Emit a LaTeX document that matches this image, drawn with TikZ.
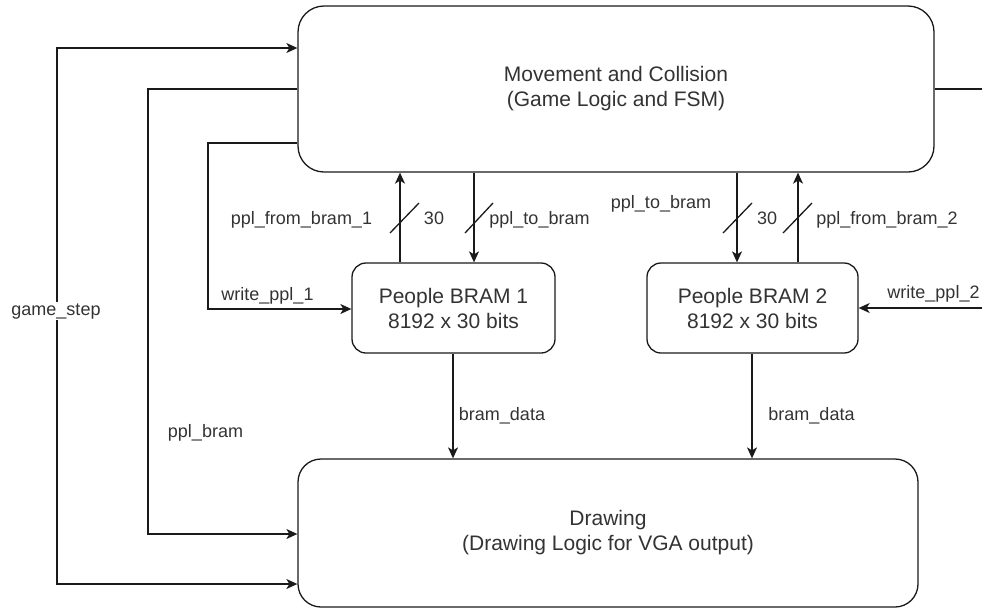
\documentclass[tikz,border=0pt]{standalone}
\usepackage{fontspec}
\setmainfont{Liberation Sans}
\usetikzlibrary{arrows.meta}
\definecolor{linec}{HTML}{1A1A1A}
\definecolor{textc}{HTML}{333333}
\tikzset{
  box/.style={draw=linec, line width=1.3pt, fill=white, align=center, text=textc,
    font=\fontsize{21}{25}\selectfont, inner sep=0pt},
  lbl/.style={text=textc, font=\fontsize{18}{21}\selectfont, inner sep=0pt, anchor=base},
  wire/.style={draw=linec, line width=1.3pt},
  arr/.style={wire, -{Stealth[length=11pt,width=10pt,inset=3pt]}},
  slash/.style={draw=linec, line width=1.3pt}
}
\begin{document}
\begin{tikzpicture}[x=1pt,y=-1pt]
\useasboundingbox (0,0) rectangle (982,611);
% boxes
\node[box, rounded corners=26pt, minimum width=636pt, minimum height=166pt] (mc) at (616,89)
  {Movement and Collision\\(Game Logic and FSM)};
\node[box, rounded corners=14pt, minimum width=203pt, minimum height=90pt] (b1) at (453.5,308)
  {People BRAM 1\\8192 x 30 bits};
\node[box, rounded corners=14pt, minimum width=211pt, minimum height=90pt] (b2) at (752.5,308)
  {People BRAM 2\\8192 x 30 bits};
\node[box, rounded corners=23pt, minimum width=620pt, minimum height=148pt] (dr) at (608,533)
  {Drawing\\(Drawing Logic for VGA output)};
% helper coordinates
\coordinate (gsT) at (57,48);
\coordinate (gsB) at (57,584);
\coordinate (pbT) at (148,89);
\coordinate (pbB) at (148,534);
\coordinate (wT) at (208,143);
\coordinate (wB) at (208,309);
\coordinate (rt) at (982,89);
\coordinate (rw) at (982,308);
\coordinate (xa) at (400,0);
\coordinate (xb) at (474,0);
\coordinate (xc) at (737,0);
\coordinate (xd) at (798,0);
\coordinate (xe) at (453,0);
\coordinate (xf) at (752,0);
% game_step
\draw[wire, {Stealth[length=11pt,width=10pt,inset=3pt]}-{Stealth[length=11pt,width=10pt,inset=3pt]}]
  (mc.west |- gsT) -- (gsT) -- (gsB) -- (dr.west |- gsB);
% ppl_bram
\draw[arr] (mc.west |- pbT) -- (pbT) -- (pbB) -- (dr.west |- pbB);
% write_ppl_1
\draw[arr] (mc.west |- wT) -- (wT) -- (wB) -- (b1.west |- wB);
% right side
\draw[wire] (mc.east |- rt) -- (rt);
\draw[arr] (rw) -- (b2.east |- rw);
% BRAM 1 links
\draw[arr] (b1.north -| xa) -- (mc.south -| xa);
\draw[arr] (mc.south -| xb) -- (b1.north -| xb);
% BRAM 2 links
\draw[arr] (mc.south -| xc) -- (b2.north -| xc);
\draw[arr] (b2.north -| xd) -- (mc.south -| xd);
% bram_data
\draw[arr] (b1.south -| xe) -- (dr.north -| xe);
\draw[arr] (b2.south -| xf) -- (dr.north -| xf);
% bus slashes
\draw[slash] (390,233) -- (419,203);
\draw[slash] (465,233) -- (493,203);
\draw[slash] (723,233) -- (752,203);
\draw[slash] (783,233) -- (812,203);
% labels
\node[lbl, fill=white, inner sep=1pt] (lgs) at (56,315) {game\_step};
\node[lbl] (lpb) at (205.5,437) {ppl\_bram};
\node[lbl] (lw1) at (267.5,300) {write\_ppl\_1};
\node[lbl] (lw2) at (933.5,298) {write\_ppl\_2};
\node[lbl] (lf1) at (301.5,224) {ppl\_from\_bram\_1};
\node[lbl] (l301) at (434,224) {30};
\node[lbl] (lt1) at (539.5,224) {ppl\_to\_bram};
\node[lbl] (lt2) at (661,208) {ppl\_to\_bram};
\node[lbl] (l302) at (767,224) {30};
\node[lbl] (lf2) at (887,224) {ppl\_from\_bram\_2};
\node[lbl] (ld1) at (502,420) {bram\_data};
\node[lbl] (ld2) at (811.5,420) {bram\_data};
\end{tikzpicture}
\end{document}
